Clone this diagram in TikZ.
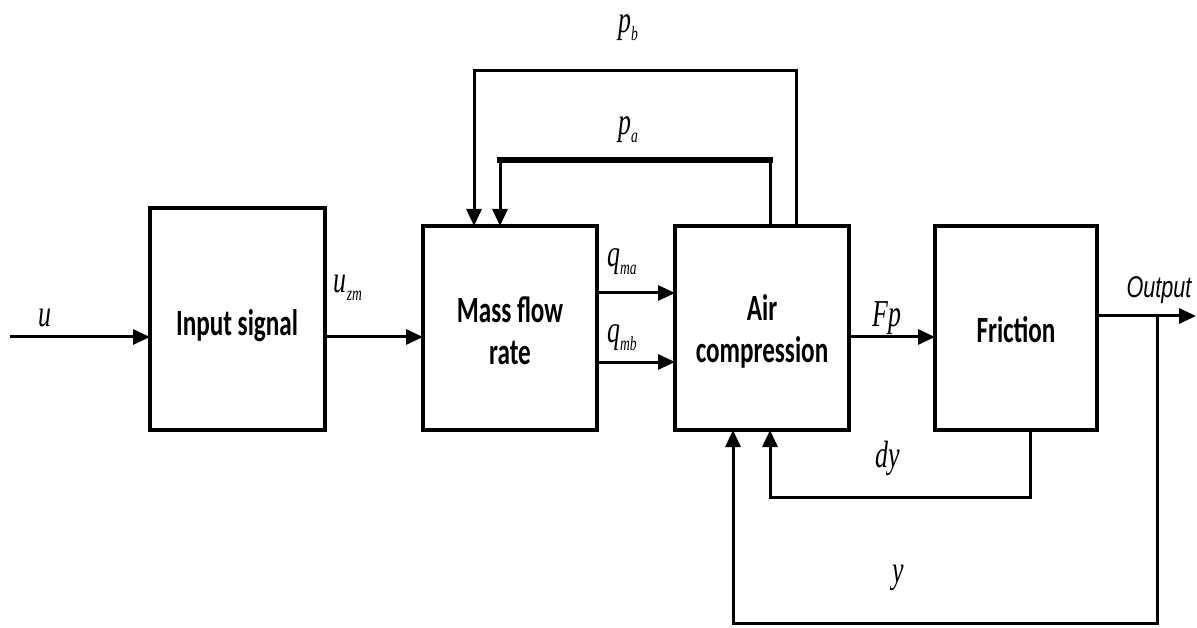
\documentclass[tikz,border=0pt]{standalone}
\usepackage{fontspec}
\setmainfont{Carlito}
\newfontfamily\lblfont{Liberation Serif}
\newfontfamily\outfont{Liberation Sans}
\usetikzlibrary{arrows.meta}
\newcommand\mysub[1]{\raisebox{-0.2em}{\fontsize{20}{20}\selectfont #1}}
\tikzset{
  blkline/.style={line width=4.5pt},
  conn/.style={line width=3pt, -{Triangle[length=17pt,width=15pt]}},
  lbl/.style={font=\lblfont\itshape\fontsize{38}{38}\selectfont, inner sep=0pt, xscale=0.68},
  txt/.style={font=\bfseries\fontsize{37}{42}\selectfont, align=center, xscale=0.68}
}
\begin{document}
\begin{tikzpicture}[x=1pt,y=-1pt]
\useasboundingbox (0,0) rectangle (1197,628);
% blocks
\draw[blkline] (150,208) rectangle (325,430);
\node[txt] (inp) at (237,326) {Input signal};
\draw[blkline] (423,226) rectangle (597,430);
\node[txt] (mass) at (510,331) {Mass flow\\rate};
\draw[blkline] (675,226) rectangle (849,430);
\node[txt] (air) at (762,331) {Air\\compression};
\draw[blkline] (935,226) rectangle (1097,430);
\node[txt] (fric) at (1016,330) {Friction};
% coordinates
\coordinate (uin) at (10,337);
\coordinate (inpL) at (150,337);
\coordinate (inpR) at (325,337);
\coordinate (massL) at (423,337);
\coordinate (massRa) at (597,293);
\coordinate (airLa) at (675,293);
\coordinate (massRb) at (597,362);
\coordinate (airLb) at (675,362);
\coordinate (airR) at (849,337);
\coordinate (fricL) at (935,337);
\coordinate (fricR) at (1097,316);
\coordinate (outE) at (1196,316);
\coordinate (tap) at (1157,316);
% forward connectors
\draw[conn] (uin) -- (inpL);
\draw[conn] (inpR) -- (massL);
\draw[conn] (massRa) -- (airLa);
\draw[conn] (massRb) -- (airLb);
\draw[conn] (airR) -- (fricL);
\draw[conn] (fricR) -- (outE);
% feedback
\draw[conn] (796,226) -- (796,71) -- (474,71) -- (474,226);
\draw[line width=3pt] (770,226) -- (770,160);
\draw[line width=6pt] (773,160) -- (497,160);
\draw[conn] (500,160) -- (500,226);
\draw[conn] (1030,430) -- (1030,497) -- (770,497) -- (770,430);
\draw[conn] (tap) -- (1157,623) -- (733,623) -- (733,430);
% labels
\node[lbl] (lu) at (45,318) {u};
\node[lbl] (luzm) at (348,288) {u\mysub{zm}};
\node[lbl] (lqma) at (622,262) {q\mysub{ma}};
\node[lbl] (lqmb) at (622,338) {q\mysub{mb}};
\node[lbl] (lfp) at (887,318) {Fp};
\node[font=\outfont\itshape\fontsize{30}{30}\selectfont, inner sep=0pt, xscale=0.72] (lout) at (1159,290) {Output};
\node[lbl] (lpb) at (628,28) {p\mysub{b}};
\node[lbl] (lpa) at (628,130) {p\mysub{a}};
\node[lbl] (ldy) at (888,458) {dy};
\node[lbl] (ly) at (898,578) {y};
\end{tikzpicture}
\end{document}
